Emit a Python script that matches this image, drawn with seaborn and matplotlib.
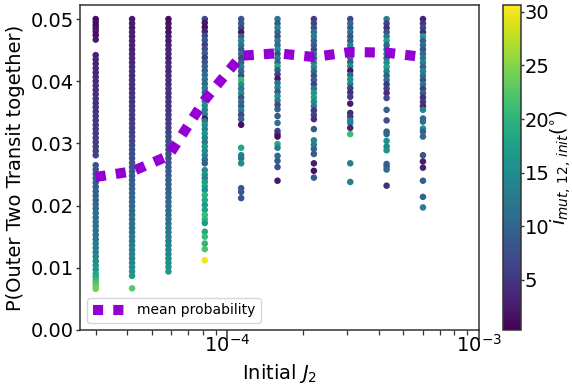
import numpy as np
import pandas as pd
import matplotlib
matplotlib.use("Agg")
import matplotlib.pyplot as plt
import seaborn as sns

# ---- x positions (Initial J2) of the ten columns ----
j2_values = [3.0e-5, 4.185e-5, 5.838e-5, 8.143e-5, 1.1359e-4,
             1.5846e-4, 2.2104e-4, 3.0833e-4, 4.3011e-4, 6.0e-4]

# ---- mean probability per column ----
mean_prob = [0.0246, 0.0255, 0.0280, 0.0370, 0.0441,
             0.0445, 0.0439, 0.0447, 0.0446, 0.0439]

# ---- column 1 ----
p_c1 = [0.0500, 0.0495, 0.0490, 0.0485, 0.0480, 0.0474, 0.0467,
        0.0442, 0.0435, 0.0428, 0.0421, 0.0414, 0.0407, 0.0400, 0.0393, 0.0386, 0.0379,
        0.0372, 0.0365, 0.0358, 0.0351, 0.0344, 0.0337, 0.0330, 0.0323, 0.0316, 0.0309,
        0.0302, 0.0295, 0.0288, 0.0281,
        0.0265, 0.0258, 0.0251, 0.0244, 0.0237, 0.0230, 0.0223, 0.0216, 0.0209, 0.0202,
        0.0195, 0.0188, 0.0181, 0.0174, 0.0167, 0.0160, 0.0153, 0.0146, 0.0139, 0.0132,
        0.0125, 0.0118, 0.0111, 0.0104, 0.0097, 0.0090, 0.0085, 0.0080, 0.0075, 0.0070,
        0.0066]
inc_c1 = [1.0, 1.4, 1.2, 1.8, 2.0, 1.6, 2.2,
          3.2, 3.5, 3.4, 3.8, 3.6, 4.0, 4.1, 4.3, 4.2, 4.5,
          4.6, 4.4, 4.8, 5.0, 4.9, 5.2, 5.3, 5.5, 5.4, 5.7,
          5.8, 6.0, 6.1, 6.3,
          8.0, 8.3, 8.6, 8.9, 9.1, 9.4, 9.6, 9.9, 10.1, 10.4,
          10.6, 10.9, 11.1, 11.4, 11.6, 11.9, 12.2, 12.5, 12.8, 13.1,
          13.5, 13.9, 14.5, 15.5, 16.5, 18.0, 19.0, 20.5, 22.0, 23.0,
          24.0]

# ---- column 2 ----
p_c2 = [0.0500, 0.0493, 0.0486, 0.0479, 0.0472, 0.0465, 0.0458, 0.0451, 0.0444, 0.0437,
        0.0430, 0.0423, 0.0416, 0.0409, 0.0402, 0.0395, 0.0388, 0.0381, 0.0374, 0.0367,
        0.0360, 0.0353, 0.0346, 0.0339, 0.0332, 0.0325, 0.0318, 0.0311, 0.0304, 0.0297,
        0.0290, 0.0283, 0.0276, 0.0269, 0.0262, 0.0255, 0.0248, 0.0241, 0.0234, 0.0227,
        0.0220, 0.0213, 0.0206, 0.0199, 0.0192, 0.0185, 0.0178, 0.0171, 0.0164, 0.0157,
        0.0150, 0.0143, 0.0136, 0.0129, 0.0122, 0.0115, 0.0108, 0.0101, 0.0094, 0.0087,
        0.0067]
inc_c2 = [2.2, 2.6, 2.4, 3.0, 2.8, 3.2, 3.4, 3.1, 3.6, 3.8,
          3.5, 4.0, 4.2, 3.9, 4.4, 4.6, 4.3, 4.8, 5.0, 4.7,
          5.2, 5.4, 5.6, 5.3, 5.8, 6.0, 6.2, 6.5, 6.8, 7.0,
          7.3, 7.6, 7.9, 8.1, 8.4, 8.6, 8.9, 9.1, 9.4, 9.6,
          9.9, 10.1, 10.3, 10.6, 10.8, 11.0, 11.3, 11.5, 11.8, 12.0,
          12.3, 12.6, 12.9, 13.2, 13.6, 14.0, 14.5, 15.0, 15.6, 16.5,
          23.0]

# ---- column 3 ----
p_c3 = [0.0500, 0.0493, 0.0486, 0.0479, 0.0472, 0.0465, 0.0458, 0.0451, 0.0444, 0.0437,
        0.0430, 0.0423, 0.0416, 0.0409, 0.0402, 0.0395, 0.0388, 0.0381, 0.0374, 0.0367,
        0.0360, 0.0353, 0.0346, 0.0339, 0.0332, 0.0325, 0.0318, 0.0311, 0.0304, 0.0297,
        0.0290, 0.0283, 0.0276, 0.0269, 0.0262, 0.0255, 0.0248, 0.0241, 0.0234, 0.0227,
        0.0220, 0.0213, 0.0206, 0.0199, 0.0192, 0.0185, 0.0178, 0.0171, 0.0164, 0.0157,
        0.0150, 0.0143, 0.0136, 0.0129, 0.0122, 0.0115, 0.0108, 0.0101, 0.0094]
inc_c3 = [1.2, 1.6, 2.0, 1.8, 2.4, 2.8, 3.0, 3.3, 3.5, 3.2,
          3.8, 4.0, 3.7, 4.2, 4.4, 4.1, 4.6, 4.5, 4.8, 4.7,
          5.0, 4.9, 5.3, 5.6, 5.9, 6.1, 6.3, 6.6, 6.9, 7.1,
          7.4, 7.7, 8.0, 8.3, 8.5, 8.8, 9.0, 9.3, 9.5, 9.8,
          10.0, 10.3, 10.6, 10.9, 11.1, 11.4, 11.7, 12.0, 12.3, 12.6,
          12.9, 13.2, 13.5, 13.9, 14.3, 14.8, 15.3, 15.9, 16.6]

# ---- column 4 ----
p_c4 = [0.0500, 0.0494, 0.0487, 0.0480, 0.0473, 0.0466, 0.0459, 0.0452, 0.0445, 0.0438,
        0.0431, 0.0424, 0.0417, 0.0410, 0.0403, 0.0396, 0.0389, 0.0382, 0.0375, 0.0368,
        0.0361, 0.0354, 0.0347, 0.0340, 0.0336, 0.0330, 0.0323, 0.0316, 0.0309, 0.0302,
        0.0295, 0.0288, 0.0281, 0.0274, 0.0268,
        0.0257, 0.0250, 0.0244, 0.0238, 0.0231, 0.0225, 0.0217, 0.0209, 0.0201, 0.0193,
        0.0185, 0.0178, 0.0172, 0.0158, 0.0150, 0.0139, 0.0130, 0.0112]
inc_c4 = [6.5, 2.0, 1.5, 3.0, 7.0, 8.0, 6.0, 7.5, 9.0, 5.5,
          8.5, 10.0, 9.5, 11.0, 12.0, 10.5, 13.0, 11.5, 14.0, 12.5,
          15.0, 13.5, 14.5, 1.8, 12.0, 15.5, 13.0, 16.0, 14.0, 12.5,
          16.5, 15.0, 13.5, 11.0, 9.5,
          15.0, 16.0, 14.0, 17.0, 18.0, 16.0, 20.0, 19.0, 17.0, 18.0,
          21.0, 20.0, 17.0, 19.0, 21.0, 20.0, 22.0, 30.0]

# ---- column 5 ----
p_c5 = [0.0500, 0.0493, 0.0486, 0.0479, 0.0472, 0.0465, 0.0458, 0.0451, 0.0444, 0.0437,
        0.0430, 0.0423, 0.0416, 0.0409, 0.0402, 0.0395, 0.0388, 0.0381, 0.0374, 0.0367,
        0.0360, 0.0353, 0.0346, 0.0339, 0.0330,
        0.0293, 0.0281, 0.0276, 0.0268, 0.0228, 0.0222, 0.0212]
inc_c5 = [8.0, 9.0, 7.0, 2.0, 10.0, 14.0, 12.0, 8.5, 11.0, 6.5,
          9.5, 13.0, 10.5, 7.5, 21.0, 16.0, 12.5, 15.0, 8.0, 11.5,
          9.0, 13.5, 7.0, 10.0, 1.5,
          18.5, 13.0, 12.0, 15.0, 8.5, 9.0, 8.0]

# ---- column 6 ----
p_c6 = [0.0500, 0.0493, 0.0486, 0.0479, 0.0472, 0.0465, 0.0458, 0.0451, 0.0444, 0.0437,
        0.0430, 0.0424, 0.0418, 0.0411, 0.0404, 0.0397, 0.0390, 0.0383, 0.0376, 0.0369,
        0.0362, 0.0355,
        0.0344, 0.0333, 0.0320, 0.0315, 0.0311, 0.0299, 0.0293, 0.0280, 0.0272, 0.0262,
        0.0240]
inc_c6 = [12.0, 9.0, 14.0, 10.5, 7.5, 13.0, 11.0, 15.0, 8.0, 12.5,
          10.0, 19.0, 9.5, 6.0, 2.0, 11.5, 14.5, 8.5, 16.0, 13.5,
          7.0, 10.0,
          9.0, 12.0, 6.0, 4.0, 1.5, 19.0, 13.0, 11.0, 9.0, 8.0,
          2.0]

# ---- column 7 ----
p_c7 = [0.0500, 0.0493, 0.0486, 0.0479, 0.0472, 0.0465, 0.0458, 0.0451, 0.0444, 0.0437,
        0.0430, 0.0423, 0.0416, 0.0409, 0.0402, 0.0395, 0.0388, 0.0381, 0.0374, 0.0367,
        0.0360, 0.0353, 0.0346, 0.0339,
        0.0323, 0.0305, 0.0298, 0.0291, 0.0283, 0.0268, 0.0256, 0.0245]
inc_c7 = [5.5, 6.5, 8.0, 12.0, 13.0, 10.0, 9.0, 7.0, 11.0, 8.5,
          14.0, 15.0, 10.5, 7.5, 9.5, 6.0, 12.5, 16.5, 17.5, 14.5,
          13.0, 5.0, 6.5, 4.5,
          9.0, 14.0, 13.0, 10.0, 9.0, 2.5, 1.5, 9.0]

# ---- column 8 ----
p_c8 = [0.0500, 0.0493, 0.0486, 0.0479, 0.0472, 0.0465, 0.0458, 0.0451, 0.0445, 0.0438,
        0.0431, 0.0424, 0.0417, 0.0410, 0.0403, 0.0396, 0.0389, 0.0382, 0.0375,
        0.0364, 0.0349, 0.0343, 0.0337, 0.0333, 0.0325, 0.0315, 0.0268, 0.0238]
inc_c8 = [7.0, 11.0, 9.0, 12.5, 8.0, 10.0, 13.5, 14.0, 19.0, 11.5,
          9.5, 15.0, 2.0, 10.5, 16.0, 14.5, 6.0, 4.5, 5.5,
          2.5, 4.0, 5.0, 13.0, 14.5, 3.5, 21.0, 13.5, 13.0]

# ---- column 9 ----
p_c9 = [0.0500, 0.0493, 0.0486, 0.0479, 0.0472, 0.0465, 0.0458, 0.0451, 0.0444, 0.0437,
        0.0430, 0.0423, 0.0416, 0.0409, 0.0402, 0.0395, 0.0388, 0.0381, 0.0373,
        0.0354, 0.0337, 0.0319, 0.0315, 0.0304, 0.0295, 0.0289, 0.0267, 0.0263, 0.0258,
        0.0232]
inc_c9 = [13.0, 6.0, 4.5, 7.5, 12.0, 17.5, 10.0, 9.0, 14.0, 11.0,
          15.0, 18.0, 13.5, 9.5, 12.0, 5.0, 6.5, 4.0, 7.0,
          10.0, 7.5, 9.5, 10.5, 15.5, 14.5, 16.0, 10.0, 9.0, 10.5,
          4.0]

# ---- column 10 ----
p_c10 = [0.0500, 0.0493, 0.0486, 0.0479, 0.0472, 0.0465, 0.0458, 0.0451, 0.0444, 0.0437,
         0.0430, 0.0423, 0.0416, 0.0409, 0.0402, 0.0395, 0.0388, 0.0381, 0.0374, 0.0367,
         0.0360, 0.0354,
         0.0340, 0.0335, 0.0324, 0.0319, 0.0311, 0.0281, 0.0271, 0.0261, 0.0240, 0.0214,
         0.0197]
inc_c10 = [3.0, 5.0, 7.0, 4.0, 17.5, 9.0, 11.0, 8.0, 10.5, 12.0,
           13.0, 9.5, 14.0, 11.5, 7.5, 12.5, 6.0, 10.0, 4.5, 5.5,
           3.5, 14.5,
           10.0, 11.5, 16.0, 9.5, 10.5, 8.0, 2.5, 3.0, 9.0, 10.0,
           13.0]

p_cols = [p_c1, p_c2, p_c3, p_c4, p_c5, p_c6, p_c7, p_c8, p_c9, p_c10]
inc_cols = [inc_c1, inc_c2, inc_c3, inc_c4, inc_c5, inc_c6, inc_c7, inc_c8, inc_c9, inc_c10]

rows = []
for xv, ps, incs in zip(j2_values, p_cols, inc_cols):
    n = min(len(ps), len(incs))
    for p, i in zip(ps[:n], incs[:n]):
        rows.append((xv, p, i))
df = pd.DataFrame(rows, columns=["J2", "P", "inc"])
mean_df = pd.DataFrame({"J2": j2_values, "P": mean_prob})

inc_min, inc_max = 0.33, 30.6

plt.rcParams["font.family"] = ["DejaVu Sans"]
plt.rcParams["axes.linewidth"] = 1.1
plt.rcParams["axes.edgecolor"] = "#333333"

fig = plt.figure(figsize=(5.72, 3.85), dpi=100)
ax = fig.add_axes([0.140, 0.143, 0.697, 0.843])
cax = fig.add_axes([0.879, 0.143, 0.031, 0.843])

norm = matplotlib.colors.Normalize(vmin=inc_min, vmax=inc_max)
sns.scatterplot(data=df, x="J2", y="P", hue="inc", palette="viridis",
                hue_norm=norm, s=22, linewidth=0, legend=False, ax=ax, zorder=2)
sns.lineplot(data=mean_df, x="J2", y="P", ax=ax, color="#9400D3",
             linewidth=7.3, linestyle=(0, (1, 1)), label="mean probability", zorder=3)

ax.set_xscale("log")
ax.set_xlim(2.6e-5, 1e-3)
ax.set_ylim(0, 0.0522)
ax.set_yticks([0.0, 0.01, 0.02, 0.03, 0.04, 0.05])
ax.set_yticklabels(["0.00", "0.01", "0.02", "0.03", "0.04", "0.05"])
ax.tick_params(axis="y", which="major", labelsize=14, length=3.2, width=1.0,
               pad=1.2, color="#333333")
ax.tick_params(axis="x", which="major", labelsize=14, length=7, width=1.1,
               pad=-4.0, color="#333333")
ax.tick_params(axis="x", which="minor", length=3.6, width=0.9, color="#333333")
ax.set_xlabel(r"Initial $J_2$", fontsize=14, labelpad=4)
ax.set_ylabel("P(Outer Two Transit together)", fontsize=14, labelpad=4)
ax.legend(loc="lower left", fontsize=10, handlelength=2.4)

sm = matplotlib.cm.ScalarMappable(norm=norm, cmap="viridis")
cb = fig.colorbar(sm, cax=cax)
cb.set_ticks([5, 10, 15, 20, 25, 30])
cb.ax.tick_params(labelsize=14, length=2.5, width=1.0, pad=0.5, color="#333333")
cb.outline.set_linewidth(1.1)
cb.set_label(r"$i_{mut,\,12,\,init}(^{\circ})$", fontsize=14, labelpad=-1)

fig.savefig("out.png", dpi=100)
